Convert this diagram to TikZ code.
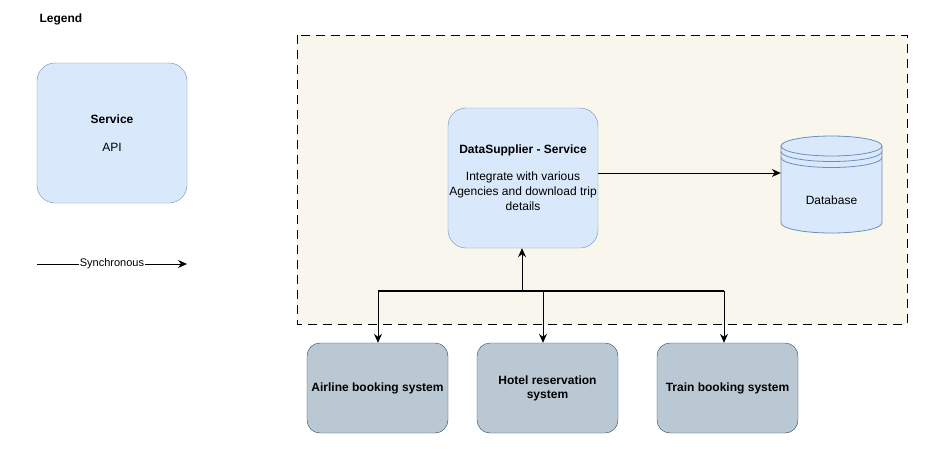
\documentclass[tikz,border=0pt]{standalone}
\usepackage{fontspec}
\setmainfont{Liberation Sans}
\usetikzlibrary{arrows.meta,calc}

\definecolor{svcfill}{HTML}{DAE8FC}
\definecolor{svcdraw}{HTML}{6C8EBF}
\definecolor{extfill}{HTML}{BAC8D3}
\definecolor{extdraw}{HTML}{23445D}
\definecolor{zonefill}{HTML}{F9F7ED}

\tikzset{
  svc/.style={draw=svcdraw, fill=svcfill, rounded corners=18pt, minimum width=150pt,
    minimum height=140pt, inner sep=0pt, align=center, font=\fontsize{12}{15}\selectfont},
  ext/.style={draw=extdraw, fill=extfill, rounded corners=13pt, minimum width=141pt,
    minimum height=90pt, inner sep=0pt, align=center, font=\bfseries\fontsize{12}{14}\selectfont},
  sync/.style={-{Stealth[length=9pt,width=8pt,inset=3pt]}, line width=0.9pt},
}

\begin{document}
\begin{tikzpicture}[x=1pt, y=-1pt]
\useasboundingbox (0,0) rectangle (940,450);

% legend
\node[anchor=west, font=\bfseries\fontsize{12}{14}\selectfont] (legend) at (36,19) {Legend};
\node[svc] (svclegend) at (112,133) {\textbf{Service}\\[13pt]API};
\coordinate (s1) at (37,264);
\coordinate (s2) at (187,264);
\draw[sync] (s1) -- node[fill=white, inner sep=0.5pt, font=\fontsize{11}{13}\selectfont] (synclabel) {Synchronous} (s2);

% zone
\draw[dash pattern=on 9pt off 6pt, fill=zonefill, line width=0.8pt] (297,35) rectangle (907,324);

\node[svc] (supplier) at (523,178) {\textbf{DataSupplier - Service}\\[12pt]Integrate with various\\Agencies and download trip\\details};

% database
\draw[svcdraw, fill=svcfill, line width=0.8pt] (781,146) -- (781,223)
  arc[start angle=180, end angle=360, x radius=50.5pt, y radius=10pt] -- (882,146)
  arc[start angle=0, end angle=180, x radius=50.5pt, y radius=10pt] -- cycle;
\draw[svcdraw, line width=0.8pt] (781,146) arc[start angle=180, end angle=360, x radius=50.5pt, y radius=10pt];
\draw[svcdraw, line width=0.8pt] (781,151.5) arc[start angle=180, end angle=360, x radius=50.5pt, y radius=10pt];
\draw[svcdraw, line width=0.8pt] (781,157.5) arc[start angle=180, end angle=360, x radius=50.5pt, y radius=10pt];
\node[minimum width=101pt, inner sep=0pt, font=\fontsize{12}{14}\selectfont] (db) at (831.5,200) {Database};

\coordinate (dsout) at ($(supplier.east)+(0,-5)$);
\draw[sync] (dsout) -- (dsout -| db.west);

% external systems
\node[ext] (airline) at (377.5,388) {Airline booking system};
\node[ext] (hotel) at (547.5,388) {Hotel reservation\\system};
\node[ext] (train) at (727.5,388) {Train booking system};

\coordinate (bus1) at (378,291);
\coordinate (bus2) at (543,291);
\coordinate (bus3) at (724,291);
\coordinate (busup) at (522,291);
\draw[line width=1.6pt] (bus1) -- (bus3);
\draw[sync] (busup) -- (busup |- supplier.south);
\draw[sync] (bus1) -- (bus1 |- airline.north);
\draw[sync] (bus2) -- (bus2 |- hotel.north);
\draw[sync] (bus3) -- (bus3 |- train.north);

\end{tikzpicture}
\end{document}
